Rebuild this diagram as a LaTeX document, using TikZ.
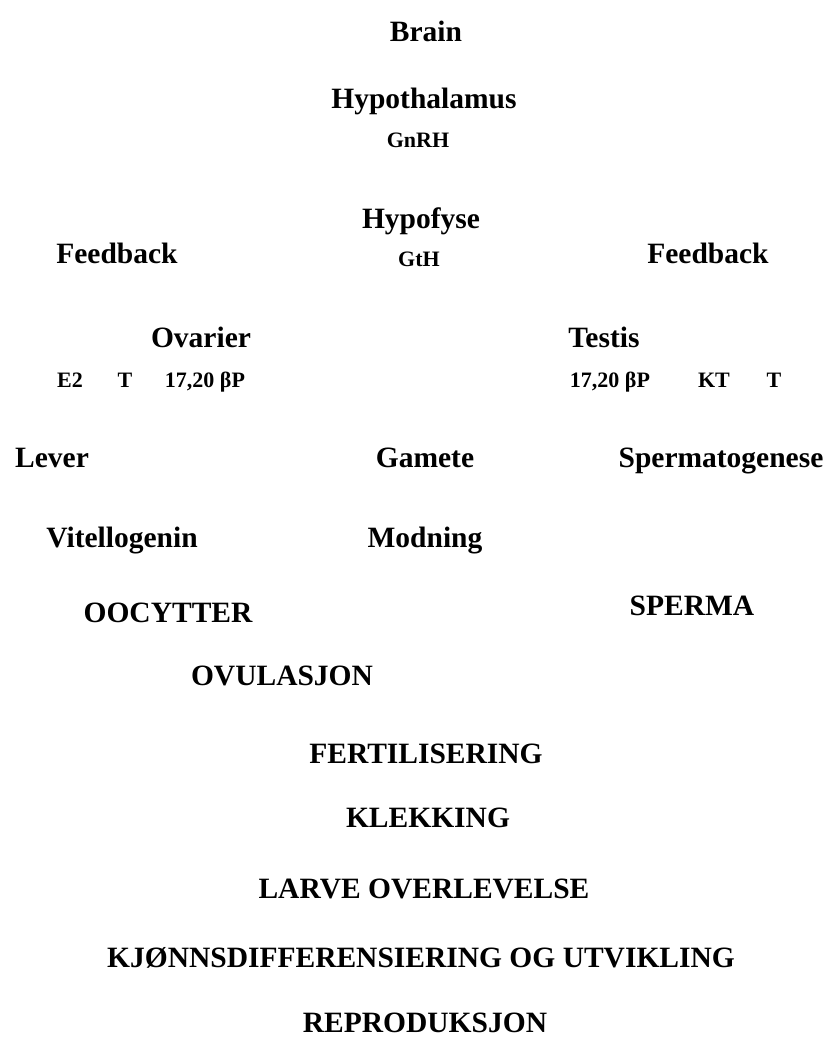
\documentclass[tikz,border=0pt]{standalone}
\usepackage{fontspec}
\setmainfont{Liberation Serif}[BoldFont={Liberation Serif Bold}]
\begin{document}
\begin{tikzpicture}[x=1pt,y=-1pt,
  big/.style={anchor=base,inner sep=0pt,font=\fontsize{29.5}{30}\selectfont\bfseries},
  small/.style={anchor=base,inner sep=0pt,font=\fontsize{22}{23}\selectfont\bfseries}]
\useasboundingbox (0,0) rectangle (824,1037);
\node[big] (brain) at (426,41) {Brain};
\node[big] (hypo) at (424,108) {Hypothalamus};
\node[small] (gnrh) at (418,147) {GnRH};
\node[big] (hypof) at (421,228) {Hypofyse};
\node[big] (fbl) at (117,263) {Feedback};
\node[small] (gth) at (419,266) {GtH};
\node[big] (fbr) at (708,263) {Feedback};
\node[big] (ovar) at (201,347) {Ovarier};
\node[small] (e2) at (70,387) {E2};
\node[small] (tl) at (125,387) {T};
\node[small] (bpl) at (205,387) {17,20 βP};
\node[big] (test) at (604,347) {Testis};
\node[small] (bpr) at (610,387) {17,20 βP};
\node[small] (kt) at (714,387) {KT};
\node[small] (tr) at (774,387) {T};
\node[big] (lever) at (52,467) {Lever};
\node[big] (gamete) at (425,467) {Gamete};
\node[big] (sperm) at (721,467) {Spermatogenese};
\node[big] (vitel) at (122,547) {Vitellogenin};
\node[big] (modn) at (425,547) {Modning};
\node[big] (oocyt) at (168,622) {OOCYTTER};
\node[big] (sperma) at (692,615) {SPERMA};
\node[big] (ovul) at (282,685) {OVULASJON};
\node[big] (fert) at (426,763) {FERTILISERING};
\node[big] (klek) at (428,827) {KLEKKING};
\node[big] (larve) at (424,898) {LARVE OVERLEVELSE};
\node[big] (kjonn) at (421,967) {KJØNNSDIFFERENSIERING OG UTVIKLING};
\node[big] (repro) at (425,1032) {REPRODUKSJON};
\end{tikzpicture}
\end{document}
